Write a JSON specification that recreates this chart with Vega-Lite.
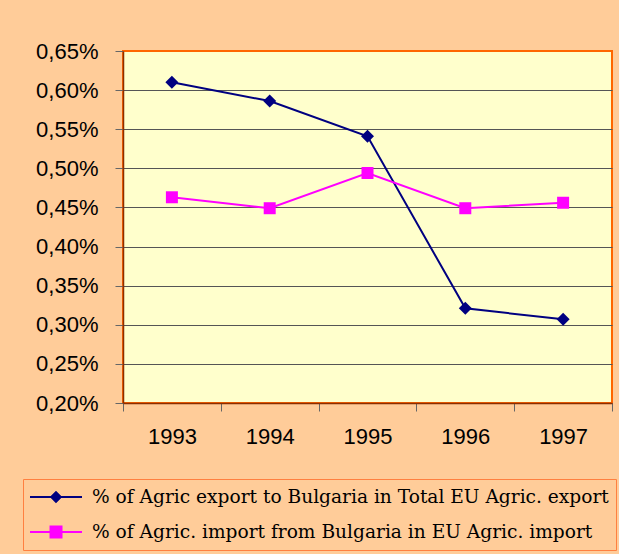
{
  "$schema": "https://vega.github.io/schema/vega-lite/v6.json",
  "width": 489,
  "height": 352,
  "autosize": {"type": "none"},
  "padding": {"left": 123, "top": 51, "right": 7, "bottom": 151},
  "background": "#FFCC99",
  "data": {
    "values": [
      {"year": "1993", "s": "% of Agric export to Bulgaria in Total EU Agric. export", "v": 0.0061},
      {"year": "1994", "s": "% of Agric export to Bulgaria in Total EU Agric. export", "v": 0.00586},
      {"year": "1995", "s": "% of Agric export to Bulgaria in Total EU Agric. export", "v": 0.00541},
      {"year": "1996", "s": "% of Agric export to Bulgaria in Total EU Agric. export", "v": 0.00321},
      {"year": "1997", "s": "% of Agric export to Bulgaria in Total EU Agric. export", "v": 0.00307},
      {"year": "1993", "s": "% of Agric. import from Bulgaria in EU Agric. import", "v": 0.00463},
      {"year": "1994", "s": "% of Agric. import from Bulgaria in EU Agric. import", "v": 0.00449},
      {"year": "1995", "s": "% of Agric. import from Bulgaria in EU Agric. import", "v": 0.00494},
      {"year": "1996", "s": "% of Agric. import from Bulgaria in EU Agric. import", "v": 0.00449},
      {"year": "1997", "s": "% of Agric. import from Bulgaria in EU Agric. import", "v": 0.00456}
    ]
  },
  "encoding": {
    "x": {
      "field": "year", "type": "ordinal",
      "scale": {"paddingInner": 0, "paddingOuter": 0},
      "axis": {
        "title": null, "labelAngle": 0, "tickBand": "extent", "grid": false,
        "domainColor": "#8B2E00", "domainWidth": 1.5,
        "tickColor": "#666666", "tickSize": 8,
        "labelFont": "Liberation Sans", "labelFontSize": 22, "labelColor": "#000000", "labelPadding": 15
      }
    },
    "y": {
      "field": "v", "type": "quantitative",
      "scale": {"domain": [0.002, 0.0065], "nice": false, "zero": false},
      "axis": {
        "title": null,
        "values": [0.002, 0.0025, 0.003, 0.0035, 0.004, 0.0045, 0.005, 0.0055, 0.006, 0.0065],
        "labelExpr": "replace(format(datum.value, '.2%'), '.', ',')",
        "tickColor": "#666666", "tickSize": 8, "labelPadding": 17,
        "domainColor": "#8B2E00", "domainWidth": 1.5,
        "grid": true, "gridColor": "#555555", "gridWidth": 1,
        "gridOpacity": {"condition": {"test": "datum.value >= 0.0065", "value": 0}, "value": 1},
        "labelFont": "Liberation Sans", "labelFontSize": 22, "labelColor": "#000000"
      }
    },
    "color": {
      "field": "s", "type": "nominal",
      "scale": {"domain": ["% of Agric export to Bulgaria in Total EU Agric. export", "% of Agric. import from Bulgaria in EU Agric. import"], "range": ["#000080", "#FF00FF"]},
      "legend": {
        "symbolType": "M-1,-0.04H1V0.04H-1Z M0,-0.24L0.24,0L0,0.24L-0.24,0Z",
        "encode": {
          "symbols": {
            "update": {
              "shape": {"signal": "indexof(datum.value, 'export') >= 0 ? 'M-1,-0.04H1V0.04H-1Z M0,-0.24L0.24,0L0,0.24L-0.24,0Z' : 'M-1,-0.04H1V0.04H-1Z M-0.25,-0.25H0.25V0.25H-0.25Z'"},
              "strokeWidth": {"value": 0}
            }
          }
        }
      }
    }
  },
  "layer": [
    {
      "mark": {"type": "line", "strokeWidth": 2}
    },
    {
      "transform": [{"filter": "indexof(datum.s, 'export') >= 0"}],
      "mark": {"type": "point", "filled": true, "opacity": 1, "strokeWidth": 0, "size": 169, "shape": "M0,-1L1,0L0,1L-1,0Z"}
    },
    {
      "transform": [{"filter": "indexof(datum.s, 'export') < 0"}],
      "mark": {"type": "point", "filled": true, "opacity": 1, "strokeWidth": 0, "size": 144, "shape": "square"}
    }
  ],
  "config": {
    "view": {"fill": "#FFFFCC", "stroke": "#FF6600", "strokeWidth": 2},
    "legend": {
      "orient": "none", "legendX": -100, "legendY": 428,
      "title": null, "direction": "vertical",
      "symbolSize": 2704, "clipHeight": 22, "rowPadding": 13, "padding": 7,
      "labelOffset": 10, "labelFont": "DejaVu Serif", "labelFontSize": 18.6,
      "labelColor": "#000000", "labelLimit": 1000,
      "strokeColor": "#FF8040",
      "symbolStrokeWidth": 0, "symbolOpacity": 1
    }
  }
}
